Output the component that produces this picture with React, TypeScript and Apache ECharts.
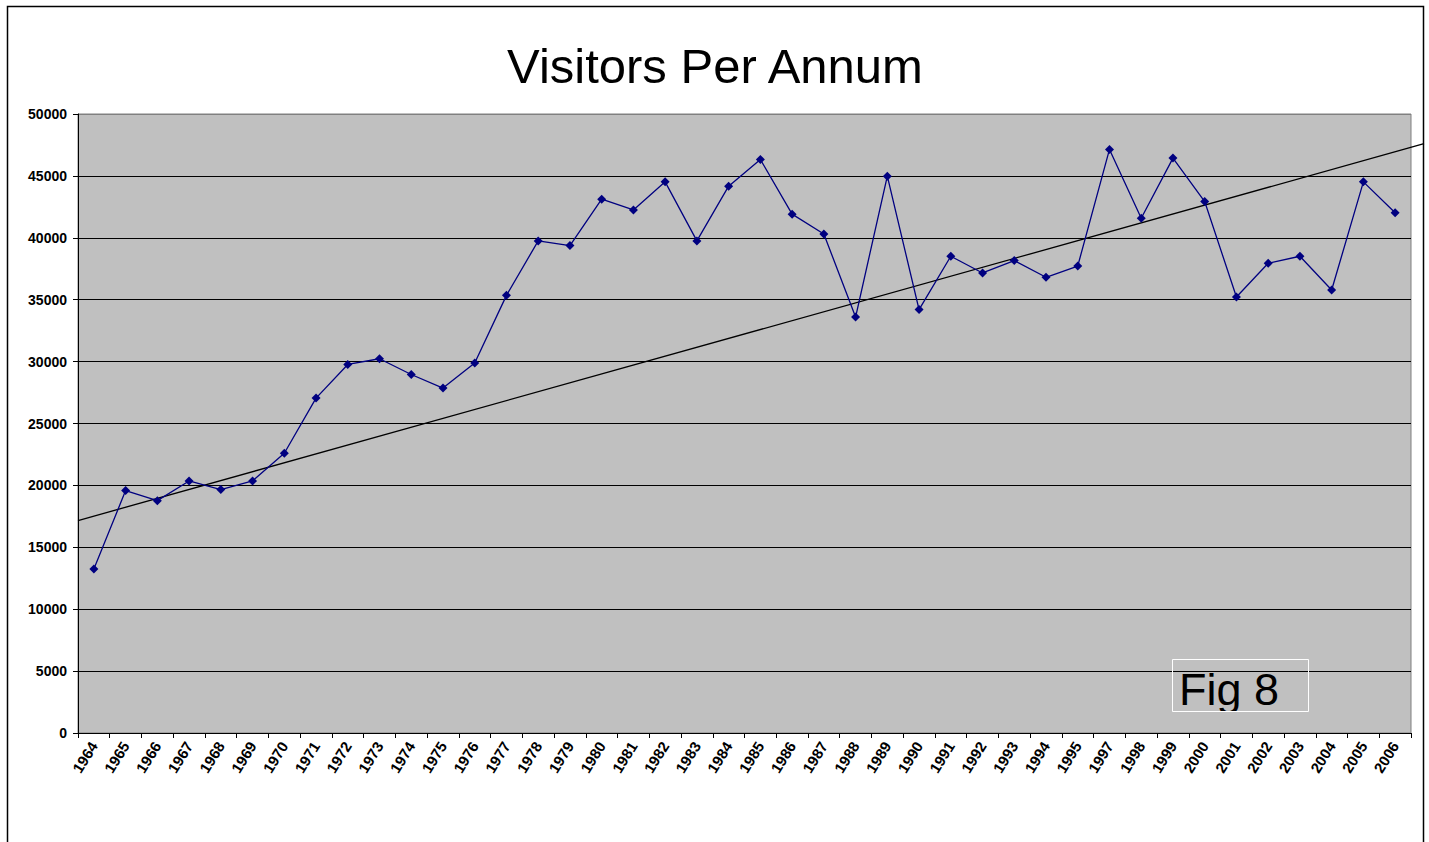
import React, { useEffect, useRef } from "react";
import * as echarts from "echarts";

const years = [
  "1964", "1965", "1966", "1967", "1968", "1969", "1970", "1971", "1972", "1973",
  "1974", "1975", "1976", "1977", "1978", "1979", "1980", "1981", "1982", "1983",
  "1984", "1985", "1986", "1987", "1988", "1989", "1990", "1991", "1992", "1993",
  "1994", "1995", "1997", "1998", "1999", "2000", "2001", "2002", "2003", "2004",
  "2005", "2006",
];

const visitors = [
  13240, 19580, 18770, 20360, 19660, 20360, 22600, 27050, 29770, 30230,
  28960, 27860, 29880, 35350, 39750, 39370, 43120, 42250, 44520, 39750,
  44170, 46330, 41910, 40310, 33600, 44980, 34200, 38510, 37160, 38160,
  36810, 37720, 47140, 41580, 46440, 42930, 35220, 37940, 38510, 35780,
  44520, 42020,
];

// trend line end points: [category position, value]
const trendStart = [-0.5, 17160];
const trendEnd = [41.9, 47600];

const yTicks = [0, 5000, 10000, 15000, 20000, 25000, 30000, 35000, 40000, 45000, 50000];

const FONT = "'Liberation Sans', Arial, Helvetica, sans-serif";

export default function App() {
  const ref = useRef<HTMLDivElement>(null);

  useEffect(() => {
    document.body.style.margin = "0";
    if (!ref.current) return;
    const chart = echarts.init(ref.current, undefined, { renderer: "svg" });
    const splitColors = yTicks.map((v, i) => (i === yTicks.length - 1 ? "#808080" : "#000000"));
    chart.setOption({
      animation: false,
      backgroundColor: "#ffffff",
      grid: [
        {
          left: 78,
          top: 114,
          width: 1333,
          height: 619,
          show: true,
          backgroundColor: "#C0C0C0",
          borderColor: "#808080",
          borderWidth: 1,
          containLabel: false,
        },
        {
          left: 78,
          top: 114,
          width: 1346,
          height: 619,
          show: false,
          containLabel: false,
        },
      ],
      xAxis: [
        {
          type: "category",
          gridIndex: 0,
          data: years,
          boundaryGap: true,
          axisLine: { show: true, lineStyle: { color: "#000", width: 1 } },
          axisTick: { show: true, inside: false, length: 5, alignWithLabel: false, lineStyle: { color: "#000" } },
          axisLabel: {
            interval: 0,
            rotate: 58,
            margin: 10,
            color: "#000",
            fontFamily: FONT,
            fontWeight: "bold",
            fontSize: 15,
          },
          splitLine: { show: false },
        },
        {
          type: "value",
          gridIndex: 1,
          min: -0.5,
          max: 41.9,
          show: false,
          splitLine: { show: false },
        },
      ],
      yAxis: [
        {
          type: "value",
          gridIndex: 0,
          min: 0,
          max: 50000,
          interval: 5000,
          axisLine: { show: true, onZero: false, lineStyle: { color: "#000", width: 1 } },
          axisTick: { show: true, inside: false, length: 5, lineStyle: { color: "#000" } },
          axisLabel: {
            margin: 11,
            color: "#000",
            fontFamily: FONT,
            fontWeight: "bold",
            fontSize: 14,
            formatter: (v: number) => String(v),
          },
          splitLine: { show: true, lineStyle: { color: splitColors, width: 1 } },
        },
        {
          type: "value",
          gridIndex: 1,
          min: 0,
          max: 50000,
          show: false,
          splitLine: { show: false },
        },
      ],
      series: [
        {
          name: "Trend",
          type: "line",
          xAxisIndex: 1,
          yAxisIndex: 1,
          data: [trendStart, trendEnd],
          symbol: "none",
          lineStyle: { color: "#000", width: 1.3 },
          silent: true,
          z: 2,
        },
        {
          name: "Visitors",
          type: "line",
          xAxisIndex: 0,
          yAxisIndex: 0,
          data: visitors,
          symbol: "diamond",
          symbolSize: 9,
          lineStyle: { color: "#000080", width: 1.3 },
          itemStyle: { color: "#000080" },
          z: 3,
        },
      ],
      graphic: [
        {
          type: "rect",
          shape: { x: 7.5, y: 6.5, width: 1416, height: 900 },
          style: { fill: "none", stroke: "#000", lineWidth: 1.5 },
          z: 100,
        },
        {
          type: "text",
          x: 715,
          y: 66,
          style: {
            text: "Visitors Per Annum",
            font: `normal 49px ${FONT}`,
            fill: "#000",
            align: "center",
            verticalAlign: "middle",
          },
          z: 100,
        },
        {
          type: "text",
          x: 1179,
          y: 689,
          style: {
            text: "Fig 8",
            font: `normal 45px ${FONT}`,
            fill: "#000",
            align: "left",
            verticalAlign: "middle",
          },
          z: 100,
        },
        {
          type: "rect",
          shape: { x: 1205, y: 712, width: 50, height: 14 },
          style: { fill: "#C0C0C0", stroke: "none" },
          z: 101,
        },
        {
          type: "rect",
          shape: { x: 1172.5, y: 659.5, width: 136, height: 52 },
          style: { fill: "none", stroke: "#ffffff", lineWidth: 1 },
          z: 102,
        },
      ],
    });
    return () => chart.dispose();
  }, []);

  return <div ref={ref} style={{ width: 1429, height: 842 }} />;
}
